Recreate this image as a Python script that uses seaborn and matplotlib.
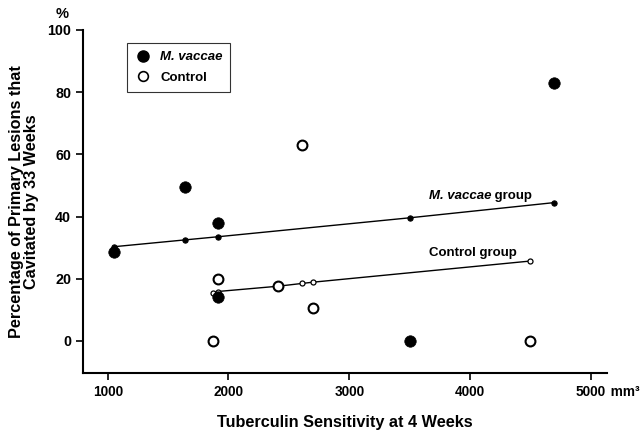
import pandas as pd
import matplotlib.pyplot as plt
import seaborn as sns
from matplotlib.lines import Line2D

# Dados observados (sensibilidade à tuberculina x % de lesões cavitadas)
vaccae_x = [1050, 1640, 1910, 1910, 3500, 4700]
vaccae_y = [28.5, 49.5, 38, 14, 0, 83]
control_x = [1870, 1910, 2410, 2610, 2700, 4500]
control_y = [0, 20, 17.7, 63, 10.7, 0]

# Valores ajustados (linhas de regressão)
vaccae_fit_x = [1050, 1640, 1910, 3500, 4700]
vaccae_fit_y = [30.3, 32.5, 33.5, 39.6, 44.5]
control_fit_x = [1870, 1910, 2410, 2610, 2700, 4500]
control_fit_y = [15.4, 15.9, 17.6, 18.5, 18.9, 25.7]

x_ticks = [1000, 2000, 3000, 4000, 5000]
y_ticks = [0, 20, 40, 60, 80, 100]

sns.set_style('ticks')
plt.rcParams['font.family'] = ['Liberation Sans', 'DejaVu Sans']
plt.rcParams['font.weight'] = 'bold'
for k in ['text.color', 'axes.labelcolor', 'xtick.color', 'ytick.color',
          'axes.edgecolor']:
    plt.rcParams[k] = 'black'

fig = plt.figure(figsize=(6.42, 4.32), dpi=100)
ax = fig.add_axes([0.1293, 0.1366, 0.8162, 0.794])

# linhas de regressão
sns.lineplot(x=vaccae_fit_x, y=vaccae_fit_y, ax=ax, color='black', lw=1,
             marker='o', markersize=3.8, markerfacecolor='black',
             markeredgecolor='black', zorder=2)
sns.lineplot(x=control_fit_x, y=control_fit_y, ax=ax, color='black', lw=1,
             marker='o', markersize=3.6, markerfacecolor='white',
             markeredgecolor='black', markeredgewidth=0.9, zorder=2)

# pontos
sns.scatterplot(x=vaccae_x, y=vaccae_y, ax=ax, s=68, color='black',
                edgecolor='black', linewidth=0.5, zorder=3)
sns.scatterplot(x=control_x, y=control_y, ax=ax, s=50, facecolor='white',
                edgecolor='black', linewidth=1.5, zorder=3)

ax.set_xlim(795, 5135)
ax.set_ylim(-10.3, 100)
ax.set_xticks(x_ticks)
ax.set_yticks(y_ticks)
ax.tick_params(axis='x', labelsize=9.8, width=1.2, length=5)
ax.tick_params(axis='y', labelsize=10.3, width=1.2, length=5)
for lab in ax.get_xticklabels() + ax.get_yticklabels():
    lab.set_fontweight('bold')
sns.despine(ax=ax)
for side in ['left', 'bottom']:
    ax.spines[side].set_linewidth(1.5)

ax.set_xlabel('Tuberculin Sensitivity at 4 Weeks', fontsize=11.7,
              fontweight='bold', labelpad=12)
ax.set_ylabel('Percentage of Primary Lesions that\nCavitated by 33 Weeks',
              fontsize=11.7, fontweight='bold', labelpad=6, linespacing=1.0)

ax.text(-0.04, 1.047, '%', transform=ax.transAxes, fontsize=10.5,
        fontweight='bold', ha='center', va='center')
ax.text(1.0, -0.055, ' mm³', transform=ax.transAxes, fontsize=9.8,
        fontweight='bold', ha='left', va='center')

# rótulos das linhas
t1 = ax.text(3658, 45.6, 'M. vaccae', fontsize=9.5, fontweight='bold',
             style='italic', ha='left', va='baseline')
ax.annotate(' group', xy=(1, 0), xycoords=t1, fontsize=9.5,
            fontweight='bold', ha='left', va='bottom')
ax.text(3658, 27.3, 'Control group', fontsize=9.5, fontweight='bold',
        ha='left', va='baseline')

# legenda
handles = [
    Line2D([], [], ls='', marker='o', markersize=8, color='black'),
    Line2D([], [], ls='', marker='o', markersize=7, markerfacecolor='white',
           markeredgecolor='black', markeredgewidth=1.2),
]
leg = ax.legend(handles, ['M. vaccae', 'Control'], loc='upper left',
                bbox_to_anchor=(0.084, 0.962), borderaxespad=0,
                frameon=True, fancybox=False, edgecolor='black',
                handletextpad=0.7, borderpad=0.6, labelspacing=0.65,
                handlelength=1.2, prop={'size': 9.5, 'weight': 'bold'})
leg.get_frame().set_linewidth(0.8)
leg.get_texts()[0].set_style('italic')

plt.savefig('out.png', dpi=100)
